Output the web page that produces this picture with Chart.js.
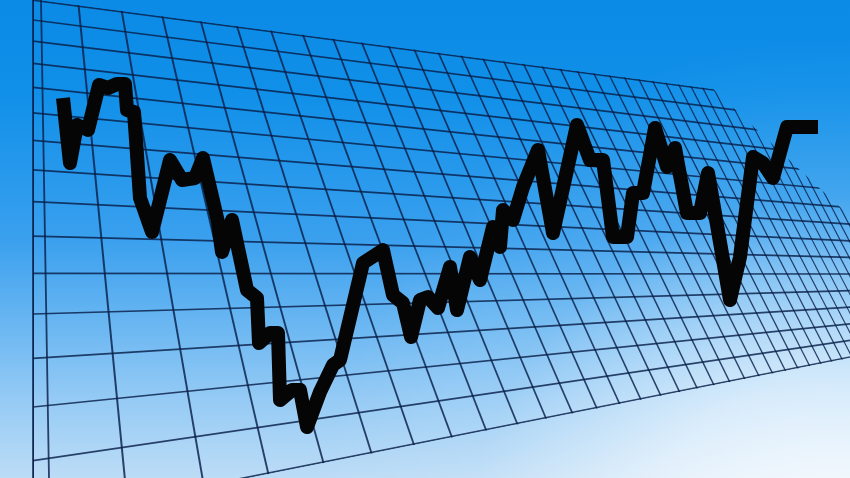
<!DOCTYPE html>
<html>
<head>
<meta charset="utf-8">
<script src="https://cdn.jsdelivr.net/npm/chart.js@4/dist/chart.umd.min.js"></script>
<style>
  html, body { margin: 0; padding: 0; background: #0b8ce8; }
  #wrap { width: 850px; height: 478px; position: relative; }
</style>
</head>
<body>
<div id="wrap"><canvas id="c"></canvas></div>
<script>
// session position (x) and index level (y)
var sessions = [63,70,77,88,99,108,117,125,127,134,136,140,152,170,182,195,203,218,222,232,
  247,257,259,270,278,280,292,300,307,320,333,340,363,383,393,403,411,420,428,438,
  450,457,470,480,493,500,503,513,523,538,553,577,590,603,613,627,633,643,655,667,
  675,687,700,708,730,740,753,763,773,787,818];
var levels = [380,315,353,348,393,390,394,394,368,366,338,280,246,318,298,300,320,256,226,258,
  188,180,135,145,145,78,88,88,51,86,113,118,215,228,183,175,141,178,181,170,
  211,168,221,198,251,231,268,258,291,328,245,353,318,318,241,241,285,285,350,311,
  330,265,265,305,178,221,321,315,300,351,351];

var points = [];
for (var i = 0; i < sessions.length; i++) {
  points.push({x: sessions[i], y: levels[i]});
}

// warped grid sheet behind the line (decoration only)
function rowLeft(k){ return -645 + 1/(1/1165 + k*0.0000461); }
function rowRight(k){ return 357 - 16.6*k; }
function colTop(u){ return 1226 - 1/(1/1193 + u/30400); }
function colSlope(x){ return 0.55*(1 - Math.exp(-(x - 33)/230)); }

var backdrop = {
  id: 'backdrop',
  beforeDraw: function(chart){
    var ctx = chart.ctx, w = chart.width, h = chart.height;
    ctx.save();
    var g = ctx.createLinearGradient(0, 0, 0, h);
    g.addColorStop(0, '#0b8ae6');
    g.addColorStop(0.2, '#1190e9');
    g.addColorStop(0.5, '#3aa0ee');
    g.addColorStop(0.69, '#6db8f2');
    g.addColorStop(0.84, '#96cbf5');
    g.addColorStop(1, '#bcdcf6');
    ctx.fillStyle = g;
    ctx.fillRect(0, 0, w, h);
    var r = ctx.createRadialGradient(830, 560, 0, 830, 560, 520);
    r.addColorStop(0, 'rgba(255,255,255,0.92)');
    r.addColorStop(0.35, 'rgba(255,255,255,0.62)');
    r.addColorStop(0.7, 'rgba(255,255,255,0.1)');
    r.addColorStop(1, 'rgba(255,255,255,0)');
    ctx.fillStyle = r;
    ctx.fillRect(0, 0, w, h);

    var nRows = 15, nCols = 36;
    var topSlope = (rowRight(nRows) - rowLeft(nRows)) / 817;
    var botSlope = (rowRight(0) - rowLeft(0)) / 817;
    var cx = 713, cy = rowLeft(nRows) + topSlope*(cx - 33);
    ctx.beginPath();
    ctx.moveTo(33, rowLeft(nRows) - 1);
    ctx.lineTo(cx, cy - 1);
    ctx.lineTo(cx + 250, cy + 0.927*250);
    ctx.lineTo(cx + 250, rowLeft(0) + botSlope*(cx + 250 - 33) + 1);
    ctx.lineTo(33, rowLeft(0) + 1);
    ctx.closePath();
    ctx.clip();

    ctx.strokeStyle = 'rgba(8,30,72,0.82)';
    for (var k = 0; k <= nRows; k++) {
      var y0 = rowLeft(k), s = (rowRight(k) - y0)/817;
      ctx.lineWidth = 1.7;
      ctx.beginPath();
      ctx.moveTo(33, y0); ctx.lineTo(1000, y0 + s*967);
      ctx.stroke();
    }
    for (var u = 0; u <= nCols; u++) {
      var xt = colTop(u), sl = colSlope(xt);
      ctx.lineWidth = Math.max(1.1, 2 - u*0.03);
      ctx.beginPath();
      ctx.moveTo(xt - sl*20, -20); ctx.lineTo(xt + sl*600, 600);
      ctx.stroke();
    }
    ctx.restore();

    // left frame: two close uprights
    ctx.save();
    ctx.strokeStyle = 'rgba(8,30,72,0.82)';
    ctx.lineWidth = 1.8;
    ctx.beginPath();
    ctx.moveTo(33, 0); ctx.lineTo(33, h);
    ctx.moveTo(41, 0); ctx.lineTo(49, h);
    ctx.stroke();
    ctx.restore();
  }
};

new Chart(document.getElementById('c'), {
  type: 'line',
  data: {
    datasets: [{
      data: points,
      borderColor: '#050505',
      borderWidth: 14,
      borderJoinStyle: 'round',
      borderCapStyle: 'butt',
      pointRadius: 0,
      tension: 0,
      fill: false
    }]
  },
  options: {
    responsive: true,
    maintainAspectRatio: false,
    animation: false,
    layout: { padding: 0 },
    plugins: { legend: { display: false }, tooltip: { enabled: false } },
    scales: {
      x: { type: 'linear', min: 0, max: 850, display: false },
      y: { type: 'linear', min: 0, max: 478, display: false }
    }
  },
  plugins: [backdrop]
});
</script>
</body>
</html>
